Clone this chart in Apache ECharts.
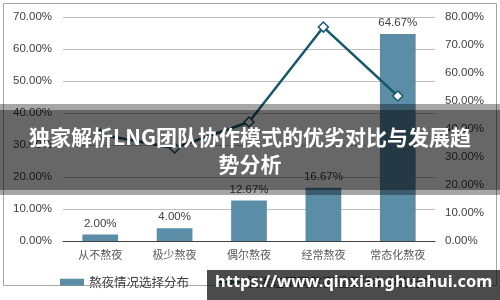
<!DOCTYPE html>
<html><head><meta charset="utf-8">
<script src="https://cdn.jsdelivr.net/npm/echarts@6/dist/echarts.min.js"></script>
<style>html,body{margin:0;padding:0;background:#fff}#c{width:500px;height:300px}</style>
</head><body><div id="c"></div>
<script>
var categories = ['从不熬夜','极少熬夜','偶尔熬夜','经常熬夜','常态化熬夜'];
var barValues = [2.00, 4.00, 12.67, 16.67, 64.67];
var lineValues = [38.0, 33.2, 42.5, 76.4, 51.8];
var barName = '熬夜情况选择分布';
var lineName = '脱发在不同熬夜程度样本中的分布';
var titleText = '独家解析LNG团队协作模式的优劣对比与发展趋\n势分析';
var watermark = 'https://www.qinxianghuahui.com';

var chart = echarts.init(document.getElementById('c'), null, {renderer:'canvas'});
var fmt = function(v){ return v.toFixed(2) + '%'; };
var font = 'Liberation Sans, Arial, sans-serif';
chart.setOption({
  animation:false,
  textStyle:{fontFamily:font},
  grid:{left:63, right:65, top:17, bottom:59, containLabel:false},
  legend:{
    left:55, top:271, width:445, orient:'horizontal', itemGap:28, itemWidth:24, itemHeight:7,
    textStyle:{fontSize:12.5, color:'#404040', fontFamily:'Noto Sans CJK SC'},
    data:[{name:barName, icon:'rect'},{name:lineName}]
  },
  xAxis:{
    type:'category', data:categories,
    axisLine:{lineStyle:{color:'#404040', width:1}},
    axisTick:{show:false},
    axisLabel:{color:'#595959', fontSize:11, margin:8, fontFamily:'Noto Sans CJK SC'}
  },
  yAxis:[
    {type:'value', min:0, max:70, interval:10,
     axisLine:{show:false}, axisTick:{show:false},
     splitLine:{lineStyle:{color:'#bfbfbf', width:1}},
     axisLabel:{formatter:fmt, color:'#404040', fontSize:11.5, margin:11}},
    {type:'value', min:0, max:80, interval:10, position:'right',
     axisLine:{show:false}, axisTick:{show:false}, splitLine:{show:false},
     axisLabel:{formatter:fmt, color:'#404040', fontSize:11.5, margin:10}}
  ],
  series:[
    {name:barName, type:'bar', data:barValues, yAxisIndex:0, barWidth:'48%',
     itemStyle:{color:'#5b8ea6'},
     label:{show:true, position:'top', formatter:function(p){return fmt(p.value);}, color:'#404040', fontSize:11.5, distance:5}},
    {name:lineName, type:'line', data:lineValues, yAxisIndex:1,
     symbol:'diamond', symbolSize:10,
     lineStyle:{color:'#17596b', width:2.5},
     itemStyle:{color:'#ffffff', borderColor:'#17596b', borderWidth:1.5}}
  ],
  graphic:[
    {type:'rect', shape:{x:3.5,y:3.5,width:493,height:282}, style:{fill:null, stroke:'#a6a6a6', lineWidth:1}, z:-1},
    {type:'rect', shape:{x:0,y:104,width:500,height:91}, style:{fill:'rgba(0,0,0,0.35)'}, z:100},
    {type:'rect', shape:{x:0,y:110,width:500,height:80}, style:{fill:'rgba(0,0,0,0.38)'}, z:100},
    {type:'text', left:'center', top:124, z:101,
     style:{text:titleText, fill:'#ffffff', font:'bold 21px "Noto Sans CJK SC"', textAlign:'center', lineHeight:27}},
    {type:'rect', shape:{x:207,y:270,width:293,height:30}, style:{fill:'rgba(15,15,15,0.75)'}, z:100},
    {type:'text', left:215, top:274, z:101,
     style:{text:watermark, fill:'#ffffff', font:'bold 16.5px "Noto Sans", "DejaVu Sans", sans-serif'}}
  ]
});
</script></body></html>
